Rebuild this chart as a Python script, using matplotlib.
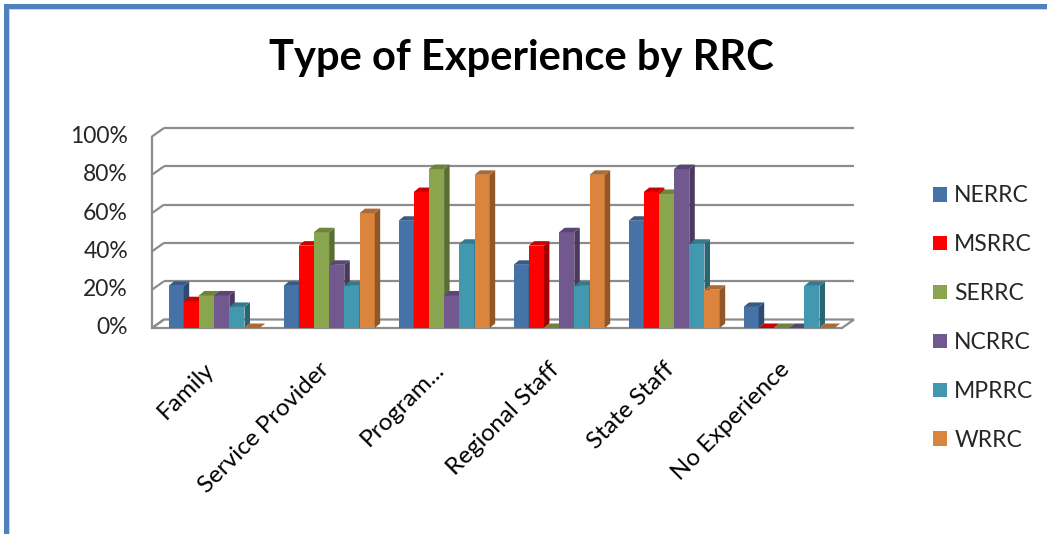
import matplotlib
matplotlib.use("Agg")
import matplotlib.pyplot as plt
from matplotlib.patches import Polygon, Rectangle
from matplotlib.colors import to_rgb
import numpy as np

plt.rcParams['font.family'] = ['Lato', 'DejaVu Sans']

# ---- data -------------------------------------------------------------
categories = ["Family", "Service Provider", "Program...", "Regional Staff",
              "State Staff", "No Experience"]
series_names = ["NERRC", "MSRRC", "SERRC", "NCRRC", "MPRRC", "WRRC"]
nerrc = [0.22, 0.22, 0.56, 0.33, 0.56, 0.11]
msrrc = [0.14, 0.43, 0.71, 0.43, 0.71, 0.00]
serrc = [0.17, 0.50, 0.83, 0.00, 0.70, 0.00]
ncrrc = [0.17, 0.33, 0.17, 0.50, 0.83, 0.00]
mprrc = [0.11, 0.22, 0.44, 0.22, 0.44, 0.22]
wrrc = [0.00, 0.60, 0.80, 0.80, 0.20, 0.00]
series_values = [nerrc, msrrc, serrc, ncrrc, mprrc, wrrc]
y_ticks = [0.0, 0.2, 0.4, 0.6, 0.8, 1.0]
y_tick_labels = ["0%", "20%", "40%", "60%", "80%", "100%"]

colors = ["#4572A7", "#FF0000", "#89A54E", "#71588F", "#4198AF", "#DB843D"]


def shade(c, f):
    r, g, b = to_rgb(c)
    return (r * f, g * f, b * f)


# ---- figure -----------------------------------------------------------
W, H = 1047, 534
fig = plt.figure(figsize=(W / 100, H / 100), dpi=100)
fig.patch.set_facecolor("white")

# outer frame (blue edge on top and left)
fig.add_artist(Rectangle((4 / W, 0), 5 / W, (H - 4) / H, transform=fig.transFigure,
                         facecolor="#4F81BD", edgecolor="none"))
fig.add_artist(Rectangle((4 / W, (H - 9) / H), (W - 4) / W, 5 / H, transform=fig.transFigure,
                         facecolor="#4F81BD", edgecolor="none"))
fig.add_artist(Rectangle((9 / W, 0), 1 / W, (H - 9) / H, transform=fig.transFigure,
                         facecolor="#C6D6EC", edgecolor="none"))
fig.add_artist(Rectangle((9 / W, (H - 10) / H), (W - 9) / W, 1 / H, transform=fig.transFigure,
                         facecolor="#C6D6EC", edgecolor="none"))

# plot area (front plane of the 3-D box)
left_px, right_px, top_px, bottom_px = 152, 842, 136.5, 328
ax = fig.add_axes([left_px / W, (H - bottom_px) / H,
                   (right_px - left_px) / W, (bottom_px - top_px) / H])
x0, x1 = -0.54, 5.46
ax.set_xlim(x0, x1)
ax.set_ylim(0, 1)
ax.set_axis_off()

ppx = ax.bbox.width / (x1 - x0)   # pixels per category unit
ppy = ax.bbox.height / 1.0        # pixels per 100 %

# depth of the box (walls/floor) and of the columns, in data units
wx, wy = 12 / ppx, 8.5 / ppy
bx, by = 5.5 / ppx, 4.5 / ppy

grid_c = "#8C8C8C"

# floor
ax.add_patch(Polygon([(x0, 0), (x1, 0), (x1 + wx, wy), (x0 + wx, wy)], closed=True,
                     facecolor="white", edgecolor=grid_c, lw=1.6, zorder=1,
                     clip_on=False, joinstyle="miter"))

# back-wall gridlines and left wall
for v in y_ticks[1:]:
    ax.plot([x0 + wx, x1 + wx], [v + wy, v + wy], color=grid_c, lw=1.6,
            zorder=1.2, clip_on=False, solid_capstyle="butt")
for v in y_ticks:
    ax.plot([x0, x0 + wx], [v, v + wy], color=grid_c, lw=1.6, zorder=1.2,
            clip_on=False, solid_capstyle="butt")
ax.plot([x0, x0], [0, 1], color=grid_c, lw=1.6, zorder=1.2, clip_on=False)

# columns
n = len(series_names)
bw = 15.2 / ppx
xs = np.arange(len(categories))
for j, (name, vals, c) in enumerate(zip(series_names, series_values, colors)):
    pos = xs + (j - (n - 1) / 2) * bw
    z = 3 + j
    bars = ax.bar(pos, vals, width=bw, color=c, edgecolor="none", zorder=z,
                  label=name, clip_on=False)
    for rect in bars:
        xl = rect.get_x()
        xr = xl + rect.get_width()
        h = rect.get_height()
        ax.add_patch(Polygon([(xr, 0), (xr + bx, by), (xr + bx, h + by), (xr, h)],
                             closed=True, facecolor=shade(c, 0.66), edgecolor="none",
                             zorder=z, clip_on=False))
        ax.add_patch(Polygon([(xl, h), (xr, h), (xr + bx, h + by), (xl + bx, h + by)],
                             closed=True, facecolor=shade(c, 0.8), edgecolor="none",
                             zorder=z, clip_on=False))

# y tick labels
for v, lab in zip(y_ticks, y_tick_labels):
    ax.annotate(lab, xy=(x0, v), xycoords="data", xytext=(-24, 0),
                textcoords="offset pixels", ha="right", va="center",
                fontsize=16.5, color="#262626")

# category labels
for i, lab in enumerate(categories):
    ax.annotate(lab, xy=(i, 0), xycoords="data", xytext=(-3, -38),
                textcoords="offset pixels", ha="right", va="center",
                rotation=45, rotation_mode="anchor", fontsize=17.5, color="black")

# title
fig.text(521 / W, 1 - 58 / H, "Type of Experience by RRC", ha="center", va="center",
         fontsize=30, fontweight="bold", color="black")

# legend
handles, labels = ax.get_legend_handles_labels()
leg = fig.legend(handles, labels, loc="upper left",
                 bbox_to_anchor=(924 / W, 1 - 176 / H), frameon=False,
                 fontsize=16.5, handlelength=0.62, handleheight=0.62,
                 handletextpad=0.3, labelspacing=1.22, borderaxespad=0)
for t in leg.get_texts():
    t.set_color("#262626")

fig.savefig("out.png", dpi=100)
